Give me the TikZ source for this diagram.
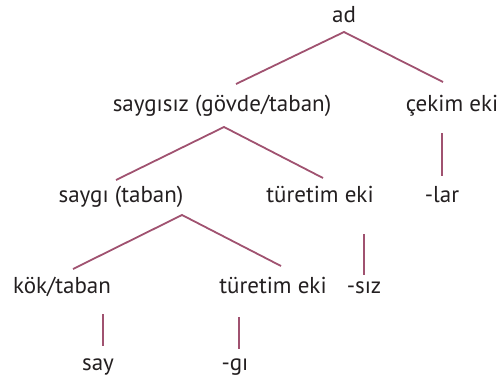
\documentclass[tikz,border=0pt]{standalone}
\usepackage{fontspec}
\setmainfont{PT Sans}
\definecolor{linec}{RGB}{160,82,112}
\definecolor{textc}{RGB}{35,31,32}
\begin{document}
\begin{tikzpicture}[x=1pt,y=-1pt,
  lbl/.style={anchor=base,inner sep=0pt,text=textc,font=\fontsize{23}{26}\selectfont},
  conn/.style={draw=linec,line width=1.8pt}]
\useasboundingbox (0,0) rectangle (498,380);
\node[lbl] (ad) at (344,23) {ad};
\node[lbl] (sgs) at (222,111) {saygısız (gövde/taban)};
\node[lbl] (cek) at (452,111) {çekim eki};
\node[lbl] (sg) at (121,202) {saygı (taban)};
\node[lbl] (tur1) at (320,202) {türetim eki};
\node[lbl] (lar) at (442,202) {-lar};
\node[lbl] (kok) at (62,293) {kök/taban};
\node[lbl] (tur2) at (273,293) {türetim eki};
\node[lbl] (siz) at (364,293) {-sız};
\node[lbl] (say) at (98,370) {say};
\node[lbl] (gi) at (235,370) {-gı};
% connector end points
\coordinate (adB) at (344,32);
\coordinate (sgsT) at (236,84);
\coordinate (cekT) at (443,82);
\coordinate (sgsB) at (224,127);
\coordinate (sgT) at (116,180);
\coordinate (tur1T) at (323,178);
\coordinate (cekB) at (442,133);
\coordinate (larT) at (442,176);
\coordinate (sgB) at (182,215);
\coordinate (kokT) at (73,269);
\coordinate (tur2T) at (281,266);
\coordinate (tur1B) at (364,234);
\coordinate (sizT) at (364,275);
\coordinate (kokB) at (103,314);
\coordinate (sayT) at (103,346);
\coordinate (tur2B) at (239,317);
\coordinate (giT) at (239,349);
\draw[conn] (sgsT) -- (adB) -- (cekT);
\draw[conn] (sgT) -- (sgsB) -- (tur1T);
\draw[conn] (cekB) -- (larT);
\draw[conn] (kokT) -- (sgB) -- (tur2T);
\draw[conn] (tur1B) -- (sizT);
\draw[conn] (kokB) -- (sayT);
\draw[conn] (tur2B) -- (giT);
\end{tikzpicture}
\end{document}
